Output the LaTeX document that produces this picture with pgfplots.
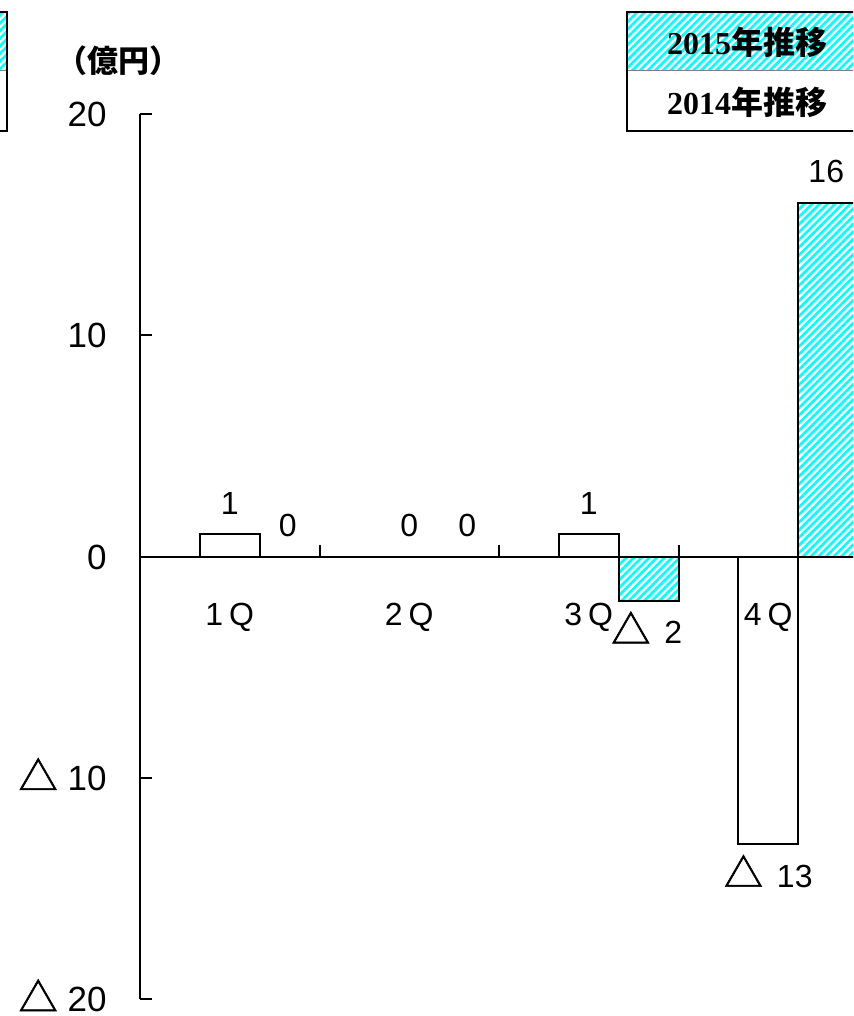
\documentclass[border=0pt]{standalone}
\usepackage{pgfplots}
\pgfplotsset{compat=1.18}
\usepackage{pgfplotstable}
\usepackage{fontspec}
\setmainfont{Liberation Sans}
\newfontfamily\cjk{Noto Sans CJK JP}
\newfontfamily\trifont[FakeBold=1.6]{Noto Sans CJK JP}
\newfontfamily\serif{Liberation Serif}
\usetikzlibrary{patterns.meta}

% quarterly results, 100 million yen
\pgfplotstableread{
x y
0 1
1 0
2 1
3 -13
}\yearA % 2014
\pgfplotstableread{
x y
0 0
1 0
2 -2
3 16
}\yearB % 2015

\newcommand\tri{{\trifont\fontsize{19.5}{19.5}\selectfont △}}
\def\stripm-#1\relax{#1}
% negative values are written with a leading triangle
\newcommand\dlab{\ifdim\pgfplotspointmeta pt<0pt \tri\hspace{7pt}\expandafter\stripm\pgfplotspointmeta\relax\else\pgfplotspointmeta\fi}

\tikzset{hatch/.style={pattern={Lines[angle=45,distance=2.7pt,line width=1.35pt]},pattern color=cyan}}

\begin{document}
\begin{tikzpicture}[x=0.5pt,y=-0.5pt]
\useasboundingbox (0,0) rectangle (853,1016);
\clip (0,0) rectangle (853,1016);

\begin{axis}[
  at={(70pt,-499.5pt)}, anchor=south west,
  scale only axis, width=359pt, height=442.5pt,
  xmin=-0.5, xmax=3.5, ymin=-20, ymax=20,
  axis x line=none, axis y line=left,
  axis line style={-, line width=1pt},
  ytick={-20,-10,0,10,20},
  yticklabels={\tri\hspace{5pt}20,\tri\hspace{5pt}10,0,10,20},
  tick align=inside, major tick length=6pt,
  every tick/.style={black, line width=1pt},
  yticklabel style={font=\fontsize{17.5}{20}\selectfont, inner xsep=0pt, xshift=-16.5pt, text height=12.5pt, text depth=0pt},
  /pgf/number format/assume math mode=true,
  clip=false,
  point meta=explicit symbolic,
  nodes near coords=\dlab,
  every node near coord/.append style={font=\fontsize{16}{19}\selectfont, inner xsep=0pt, inner ysep=9.5pt, text height=11.5pt, text depth=0pt,
    anchor=\ifdim\pgfplotspointmeta pt<0pt north\else south\fi},
]
\addplot[ybar, bar width=0.334, bar shift=0, fill=white, draw=black, line width=1pt]
  table[x=x,y=y,meta=y] {\yearA};
\addplot[ybar, bar width=0.334, bar shift=0.334, hatch, draw=black, line width=1pt,
  every node near coord/.append style={xshift=29pt}]
  table[x=x,y=y,meta=y] {\yearB};

% horizontal axis with category separators
\draw[line width=1pt] (axis cs:-0.5,0) -- (axis cs:3.5,0);
\draw[line width=1pt] (axis cs:0.5,0) -- ++(0pt,6pt);
\draw[line width=1pt] (axis cs:1.5,0) -- ++(0pt,6pt);
\draw[line width=1pt] (axis cs:2.5,0) -- ++(0pt,6pt);
\draw[line width=1pt] (axis cs:3.5,0) -- ++(0pt,6pt);

\begin{scope}[every node/.style={font=\fontsize{16}{19}\selectfont, inner sep=0pt, text height=11.5pt, text depth=0pt}]
\node at (axis cs:0,-2.6) {1\hspace{3pt}Q};
\node at (axis cs:1,-2.6) {2\hspace{3pt}Q};
\node at (axis cs:2,-2.6) {3\hspace{3pt}Q};
\node at (axis cs:3,-2.6) {4\hspace{3pt}Q};
\end{scope}
\end{axis}

% unit
\node[font=\fontsize{15.5}{18}\selectfont\cjk\bfseries, inner sep=0pt] at (118,61) {（億円）};

% legend
\fill[hatch] (627,12) rectangle (870,71);
\draw[line width=0.5pt, gray] (627,71) -- (870,71);
\draw[line width=1pt] (627,12) rectangle (870,131);
\node[font=\fontsize{16}{19}\selectfont, inner sep=0pt] at (747,42) {{\serif\bfseries 2015}{\cjk\bfseries 年推移}};
\node[font=\fontsize{16}{19}\selectfont, inner sep=0pt] at (747,102) {{\serif\bfseries 2014}{\cjk\bfseries 年推移}};

% neighbouring legend at the left edge
\fill[hatch] (-240,12) rectangle (7,71);
\draw[line width=0.5pt, gray] (-240,71) -- (7,71);
\draw[line width=1pt] (-240,12) rectangle (7,131);
\end{tikzpicture}
\end{document}
